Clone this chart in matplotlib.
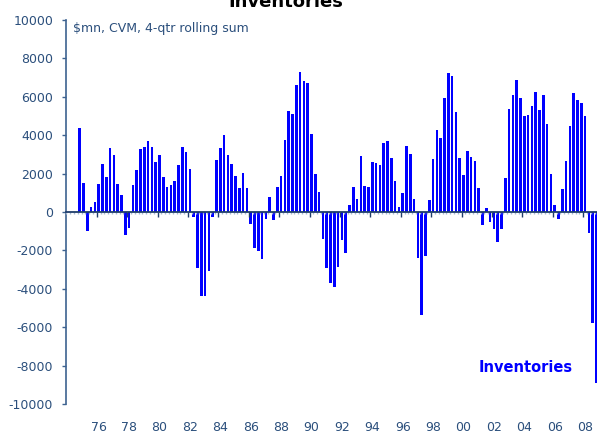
import numpy as np
import pandas as pd
import matplotlib
matplotlib.use("Agg")
import matplotlib.pyplot as plt
from matplotlib.transforms import ScaledTranslation

# quarterly inventories, $mn CVM, 4-qtr rolling sum, 1974Q4 .. 2008Q4
first_quarter = "1974Q4"
inventories = [4350, 1500, -1000, 250, 500, 1450, 2480, 1800, 3350, 2950,
               1450, 870, -1200, -850, 1400, 2200, 3300, 3400, 3700, 3400,
               2600, 2950, 1800, 1300, 1400, 1600, 2450, 3400, 3100, 2240,
               -280, -2900, -4400, -4400, -3070, -250, 2700, 3330, 4030, 2970,
               2520, 1860, 1270, 2010, 1270, -600, -1860, -2010, -2430, -350,
               800, -420, 1280, 1890, 3730, 5260, 5100, 6630, 7270, 6840,
               6720, 4050, 2000, 1060, -1390, -2920, -3720, -3920, -2880, -1480,
               -2150, 380, 1320, 700, 2920, 1350, 1300, 2620, 2530, 2450,
               3580, 3680, 2830, 1610, 260, 1000, 3440, 3040, 700, -2380,
               -5350, -2310, 610, 2740, 4250, 3850, 5920, 7240, 7100, 5190,
               2800, 1930, 3190, 2880, 2640, 1270, -680, 210, -500, -870,
               -1580, -900, 1790, 5360, 6110, 6880, 5950, 4980, 5070, 5520,
               6250, 5310, 6110, 4600, 1960, 380, -350, 1180, 2670, 4480,
               6220, 5850, 5660, 5000, -1090, -5800, -8920]
label_years = list(range(1976, 2009, 2))
y_ticks = list(range(-10000, 10001, 2000))

quarters = pd.period_range(first_quarter, periods=len(inventories), freq="Q")
x = quarters.year + (quarters.quarter - 1) / 4 + 0.125

axis_col = "#3d6290"
text_col = "#2b4f7c"

fig = plt.figure(figsize=(5.97, 4.34), dpi=100)
ax = fig.add_axes([0.1111, 0.0691, 0.8913, 0.8848])

ax.bar(x, inventories, width=0.175, color="#0000ff", edgecolor="none", zorder=2)

ax.set_xlim(1974.0, 2009.0)
ax.set_ylim(-10000, 10000)
ax.set_yticks(y_ticks)
ax.set_yticklabels([str(v) for v in y_ticks])
ax.tick_params(axis="y", length=3, width=1, color=axis_col, labelcolor=text_col,
               labelsize=9, pad=6.5)

ax.set_xticks(label_years)
ax.set_xticklabels(["%02d" % (y % 100) for y in label_years])
ax.tick_params(axis="x", length=0, labelcolor=text_col, labelsize=9, pad=12)
offset = ScaledTranslation(2 / 100, 0, fig.dpi_scale_trans)
for lab in ax.get_xticklabels():
    lab.set_transform(lab.get_transform() + offset)

for s in ["top", "right", "bottom"]:
    ax.spines[s].set_visible(False)
ax.spines["left"].set_color(axis_col)
ax.spines["left"].set_linewidth(1.2)

# zero line with its own ticks
zero = ax.secondary_xaxis(0, transform=ax.transData)
zero.set_zorder(5)
zero.spines["bottom"].set_color("#1f3d6b")
zero.spines["bottom"].set_linewidth(1.3)
zero.set_xticks(label_years)
zero.set_xticks(np.arange(1974.0, 2009.01, 0.25), minor=True)
zero.tick_params(axis="x", which="major", length=3.5, width=1, color="#1f3d6b",
                 labelbottom=False)
zero.tick_params(axis="x", which="minor", length=1.5, width=1, color="#a8b8d0")

ax.text(0.0125, 0.977, "$mn, CVM, 4-qtr rolling sum", transform=ax.transAxes,
        fontsize=9, color=text_col, ha="left", va="center")
ax.text(0.864, 0.096, "Inventories", transform=ax.transAxes, fontsize=10.5,
        fontweight="bold", color="#0000ff", ha="center", va="center")

fig.text(0.479, 1 - 7 / 434, "Inventories", fontsize=13, fontweight="bold",
         color="black", ha="center", va="baseline")

fig.savefig("out.png", dpi=100)
